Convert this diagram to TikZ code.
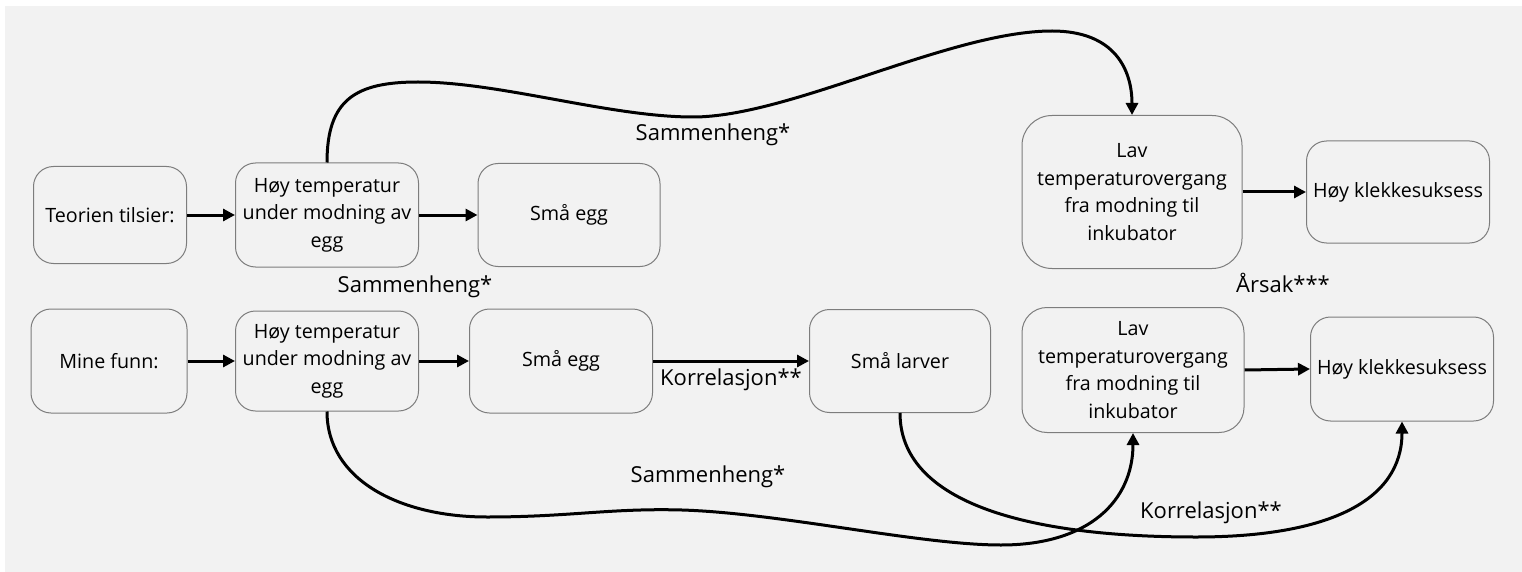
\documentclass[tikz,border=0pt]{standalone}
\usepackage{fontspec}
\setmainfont{Open Sans}
\usetikzlibrary{arrows.meta}
\definecolor{bgGray}{RGB}{242,242,242}
\definecolor{lineGray}{RGB}{125,125,125}
\begin{document}
\begin{tikzpicture}[x=1pt, y=-1pt, boxStyle/.style={rectangle, draw=lineGray, line width=1pt, rounded corners=20pt, align=center, inner sep=0pt, font=\fontsize{19.7}{27.5}\selectfont}, labelStyle/.style={font=\fontsize{22}{28}\selectfont, inner sep=0pt}, arrowStyle/.style={line width=3pt, -{Triangle[length=12pt, width=12pt]}}]
                    \fill[bgGray] (5,6) rectangle (1522,572);
                    \useasboundingbox (0,0) rectangle (1522,572);
                    % teorien
                    \node[boxStyle, minimum width=153pt, minimum height=97pt]  (theory)   at (110, 215) {Teorien tilsier:};
                    \node[boxStyle, minimum width=183pt, minimum height=104pt] (hotTop)   at (327, 215) {Høy temperatur\\under modning av\\egg};
                    \node[boxStyle, minimum width=182pt, minimum height=103pt] (eggTop)   at (569, 215) {Små egg};
                    \node[boxStyle, rounded corners=30pt, minimum width=220pt, minimum height=153pt] (lowTop) at (1132, 192) {Lav\\temperaturovergang\\fra modning til\\inkubator};
                    \node[boxStyle, minimum width=183pt, minimum height=102pt] (hatchTop) at (1398, 192) {Høy klekkesuksess};
                    % mine funn
                    \node[boxStyle, minimum width=156pt, minimum height=104pt] (findings) at (109, 361) {Mine funn:};
                    \node[boxStyle, minimum width=183pt, minimum height=100pt] (hotBot)   at (327, 361) {Høy temperatur\\under modning av\\egg};
                    \node[boxStyle, minimum width=183pt, minimum height=104pt] (eggBot)   at (561, 361) {Små egg};
                    \node[boxStyle, minimum width=181pt, minimum height=103pt] (larvae)   at (900, 361) {Små larver};
                    \node[boxStyle, rounded corners=25pt, minimum width=222pt, minimum height=125pt] (lowBot) at (1133, 370) {Lav\\temperaturovergang\\fra modning til\\inkubator};
                    \node[boxStyle, minimum width=183pt, minimum height=104pt] (hatchBot) at (1402, 369) {Høy klekkesuksess};
                    % labels
                    \node[labelStyle] (linkTop)  at (713, 135) {Sammenheng*};
                    \node[labelStyle] (linkMid)  at (415, 287) {Sammenheng*};
                    \node[labelStyle] (linkBot)  at (708, 477) {Sammenheng*};
                    \node[labelStyle] (cause)    at (1283, 283) {Årsak***};
                    \node[labelStyle] (corrBot)  at (1211, 513) {Korrelasjon**};
                    % straight arrows
                    \draw[arrowStyle] (theory.east) -- (hotTop.west);
                    \draw[arrowStyle] (hotTop.east) -- (eggTop.west);
                    \draw[arrowStyle] (lowTop.east) -- (hatchTop.west);
                    \draw[arrowStyle] (findings.east) -- (hotBot.west);
                    \draw[arrowStyle] (hotBot.east) -- (eggBot.west);
                    \draw[arrowStyle] (eggBot.east) -- node[labelStyle, below=6pt] (corrMid) {Korrelasjon**} (larvae.west);
                    \draw[arrowStyle] (lowBot.east) -- (hatchBot.west);
                    % curved arrows
                    \draw[arrowStyle] (hotTop.north) .. controls (327,100) and (355,82) .. (418,82) .. controls (500,82) and (610,117) .. (693,117) .. controls (790,117) and (950,31) .. (1052,31) .. controls (1115,31) and (1132,70) .. (lowTop.north);
                    \draw[arrowStyle] (hotBot.south) .. controls (327,480) and (400,517) .. (487,517) .. controls (570,517) and (610,508) .. (682,510) .. controls (780,513) and (920,545) .. (1001,545) .. controls (1090,545) and (1133,500) .. (lowBot.south);
                    \draw[arrowStyle] (larvae.south) .. controls (900,500) and (1020,537) .. (1196,537) .. controls (1330,537) and (1402,500) .. (hatchBot.south);
                \end{tikzpicture}
\end{document}
